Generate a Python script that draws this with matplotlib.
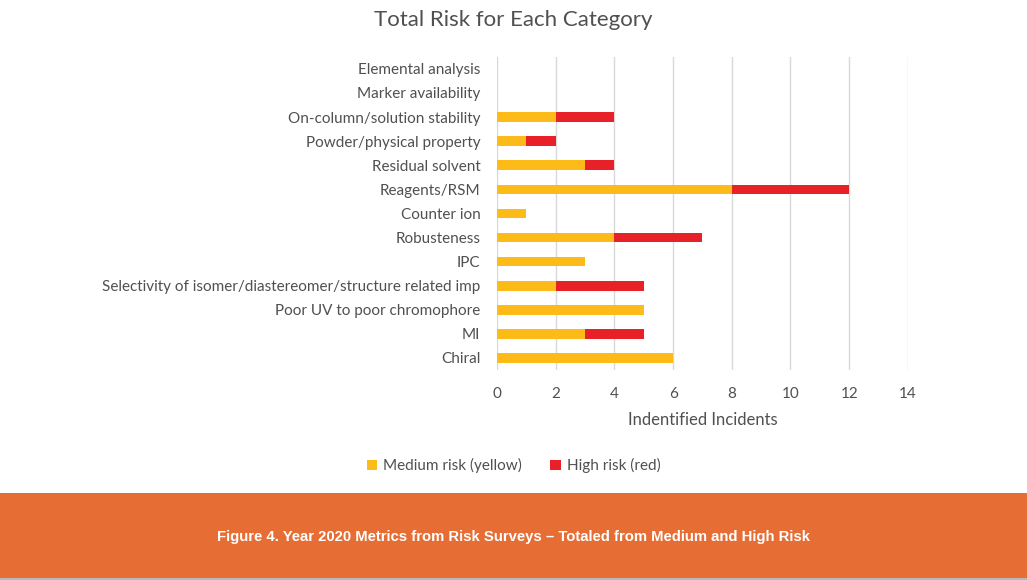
import numpy as np
import matplotlib.pyplot as plt
from matplotlib.patches import Rectangle

categories = ["Chiral", "MI", "Poor UV to poor chromophore",
              "Selectivity of isomer/diastereomer/structure related imp",
              "IPC", "Robusteness", "Counter ion", "Reagents/RSM",
              "Residual solvent", "Powder/physical property",
              "On-column/solution stability", "Marker availability",
              "Elemental analysis"]
medium = [6, 3, 5, 2, 3, 4, 1, 8, 3, 1, 2, 0, 0]
high = [0, 2, 0, 3, 0, 3, 0, 4, 1, 1, 2, 0, 0]
xticks = [0, 2, 4, 6, 8, 10, 12, 14]

font = ['Lato', 'DejaVu Sans']
plt.rcParams['font.family'] = font
grey = '#505050'
yellow = '#FDBB1A'
red = '#E82128'

fig = plt.figure(figsize=(10.27, 5.8), dpi=100)
ax = fig.add_axes([0.484, 0.362, 0.400, 0.540])

y = np.arange(len(categories))
ax.barh(y, medium, height=0.4, color=yellow, label="Medium risk (yellow)", zorder=3)
ax.barh(y, high, left=medium, height=0.4, color=red, label="High risk (red)", zorder=3)

ax.set_xlim(0, 14)
ax.set_ylim(-0.5, len(categories) - 0.5)
ax.set_xticks(xticks)
ax.set_yticks(y)
ax.set_yticklabels(categories)
ax.tick_params(axis='both', length=0, labelsize=11, colors=grey)
ax.tick_params(axis='y', pad=12)
ax.tick_params(axis='x', pad=12)
ax.grid(axis='x', color='#D9D9D9', linewidth=1, zorder=0)
for s in ax.spines.values():
    s.set_visible(False)
ax.set_xlabel("Indentified Incidents", fontsize=12, color=grey, labelpad=8)

fig.text(0.5, 0.965, "Total Risk for Each Category", ha='center', va='center',
         fontsize=16, color=grey)

h, l = ax.get_legend_handles_labels()
fig.legend(h, l, loc='center', bbox_to_anchor=(0.5, 0.197), ncol=2, frameon=False,
           fontsize=11, labelcolor=grey, handlelength=0.7, handleheight=0.7,
           handletextpad=0.4, columnspacing=1.8)

# orange caption band
fig.patches.append(Rectangle((0, 0.003), 1, 0.147, transform=fig.transFigure,
                             facecolor='#E66E35', edgecolor='none'))
fig.patches.append(Rectangle((0, 0), 1, 0.004, transform=fig.transFigure,
                             facecolor='#B9B9B9', edgecolor='none'))
fig.text(0.5, 0.074, "Figure 4. Year 2020 Metrics from Risk Surveys \u2013 Totaled from Medium and High Risk",
         ha='center', va='center', fontsize=10.7, color='white', fontweight='bold',
         family=['Liberation Sans Narrow', 'Liberation Sans'])

fig.savefig("out.png", dpi=100)
